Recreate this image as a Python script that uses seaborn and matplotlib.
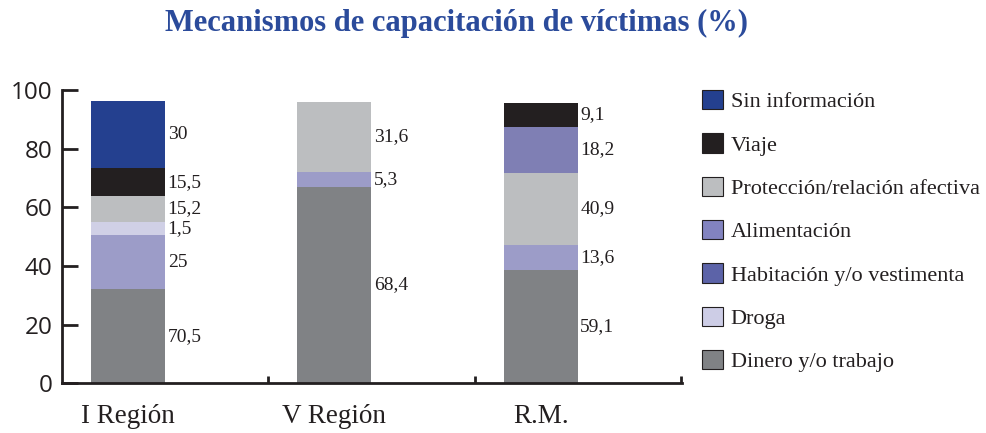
import matplotlib
matplotlib.use("Agg")

import matplotlib.pyplot as plt
import numpy as np
import pandas as pd
import seaborn as sns
from matplotlib.patches import Patch

# data
regions = ["I Región", "V Región", "R.M."]

series = [
    "Sin información",
    "Viaje",
    "Protección/relación afectiva",
    "Alimentación",
    "Habitación y/o vestimenta",
    "Droga",
    "Dinero y/o trabajo",
]

# segments per region, listed from the bottom of the bar upwards
i_region_series = ["Dinero y/o trabajo", "Habitación y/o vestimenta", "Droga",
                   "Protección/relación afectiva", "Viaje", "Sin información"]
i_region_heights = [32.0, 18.6, 4.3, 9.0, 9.4, 23.1]
i_region_labels = ["70,5", "25", "1,5", "15,2", "15,5", "30"]

v_region_series = ["Dinero y/o trabajo", "Habitación y/o vestimenta",
                   "Protección/relación afectiva"]
v_region_heights = [67.0, 5.0, 23.9]
v_region_labels = ["68,4", "5,3", "31,6"]

rm_series = ["Dinero y/o trabajo", "Habitación y/o vestimenta",
             "Protección/relación afectiva", "Alimentación", "Viaje"]
rm_heights = [38.6, 8.6, 24.6, 15.7, 8.2]
rm_labels = ["59,1", "13,6", "40,9", "18,2", "9,1"]

bar_colors = {
    "Sin información": "#24408f",
    "Viaje": "#231f20",
    "Protección/relación afectiva": "#bcbec0",
    "Alimentación": "#7f7fb4",
    "Habitación y/o vestimenta": "#9c9cc8",
    "Droga": "#d0d0e6",
    "Dinero y/o trabajo": "#808285",
}
legend_colors = {
    "Sin información": "#24408f",
    "Viaje": "#231f20",
    "Protección/relación afectiva": "#bcbec0",
    "Alimentación": "#8283bf",
    "Habitación y/o vestimenta": "#5c63a8",
    "Droga": "#cdcde6",
    "Dinero y/o trabajo": "#808285",
}

sns.set_theme(style="white")
plt.rcParams["font.family"] = ["Liberation Serif", "DejaVu Serif"]

SERIF = "Liberation Serif"
SANS = "Open Sans"
INK = "#231f20"


def build_table():
    rows = []
    parts = [
        (regions[0], i_region_series, i_region_heights, i_region_labels),
        (regions[1], v_region_series, v_region_heights, v_region_labels),
        (regions[2], rm_series, rm_heights, rm_labels),
    ]
    for region, names, heights, labels in parts:
        bottom = 0.0
        for name, h, lab in zip(names, heights, labels):
            rows.append({"region": region, "series": name, "height": h,
                         "bottom": bottom, "label": lab})
            bottom += h
    return pd.DataFrame(rows)


df = build_table()

fig = plt.figure(figsize=(9.87, 4.33), dpi=100)
ax = fig.add_axes([0.0628, 0.1148, 0.691 - 0.0628, 0.7921 - 0.1148])

bar_width = 0.36
for name in series:
    sub = df[df["series"] == name].set_index("region").reindex(regions)
    heights = sub["height"].fillna(0).to_numpy()
    bottoms = sub["bottom"].fillna(0).to_numpy()
    sns.barplot(x=regions, y=heights, bottom=bottoms, order=regions,
                color=bar_colors[name], saturation=1, width=bar_width,
                errorbar=None, linewidth=0, ax=ax)

for _, row in df.iterrows():
    xpos = regions.index(row["region"]) + bar_width / 2 + 0.012
    ax.text(xpos, row["bottom"] + row["height"] / 2, row["label"],
            ha="left", va="center", fontsize=14, family=SERIF, color=INK)

ax.set_xlim(-0.32, 2.685)
ax.set_ylim(0, 100)
ax.set_yticks(np.arange(0, 101, 20))
ax.set_xlabel("")
ax.set_ylabel("")

for side in ["top", "right"]:
    ax.spines[side].set_visible(False)
for side in ["left", "bottom"]:
    ax.spines[side].set_color(INK)
    ax.spines[side].set_linewidth(2)

ax.tick_params(axis="y", direction="in", length=11.5, width=2, color=INK,
               pad=7, left=True)
for lab in ax.get_yticklabels():
    lab.set_family(SANS)
    lab.set_fontsize(17.5)
    lab.set_color(INK)

ax.set_xticks(range(len(regions)))
ax.set_xticklabels(regions)
ax.tick_params(axis="x", which="major", length=0, pad=15)
for lab in ax.get_xticklabels():
    lab.set_family(SERIF)
    lab.set_fontsize(19.5)
    lab.set_color(INK)
ax.set_xticks([0.68, 1.68, 2.68], minor=True)
ax.tick_params(axis="x", which="minor", direction="in", length=5, width=2,
               color=INK, bottom=True)

handles = [Patch(facecolor=legend_colors[s], edgecolor=INK, linewidth=0.8)
           for s in series]
fig.legend(handles, series, loc="upper left", bbox_to_anchor=(0.711, 0.792),
           frameon=False, borderpad=0, borderaxespad=0, handlelength=0.95,
           handleheight=0.95, handletextpad=0.36, labelspacing=0.95,
           prop={"family": SERIF, "size": 16}, labelcolor=INK)

fig.text(0.4625, 1 - 23 / 433, "Mecanismos de capacitación de víctimas (%)",
         ha="center", va="center", fontsize=22, fontweight="bold",
         family=SERIF, color="#2b4b9b")

fig.savefig("out.png", dpi=100)
